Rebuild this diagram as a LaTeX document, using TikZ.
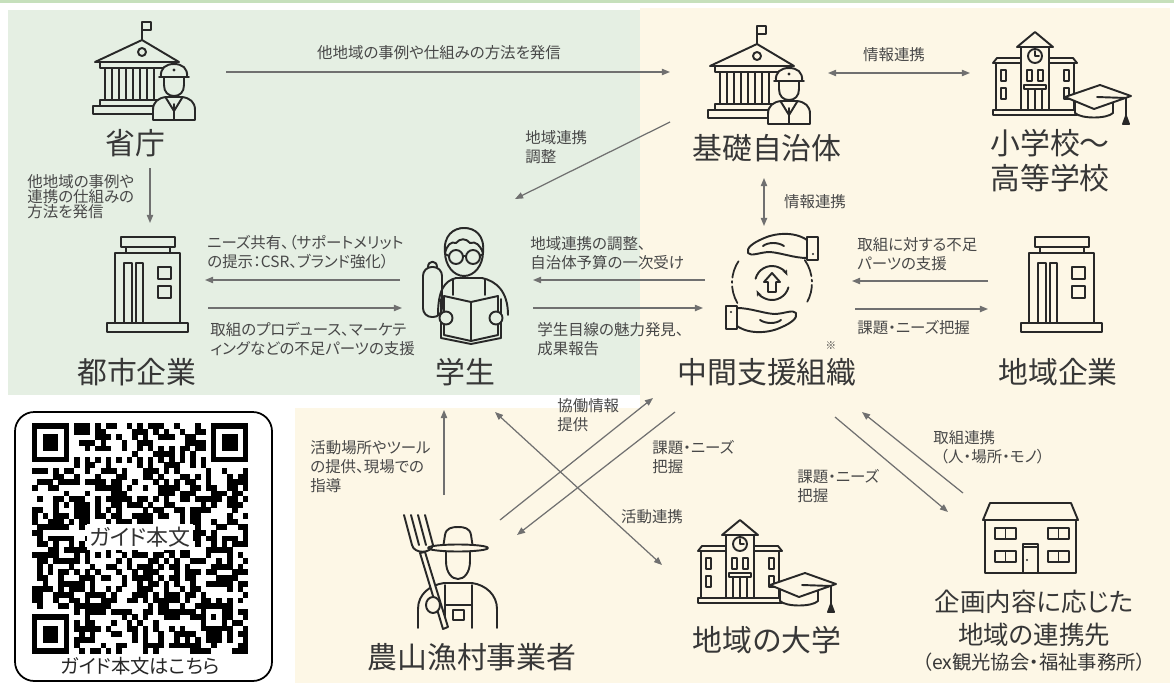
\documentclass[tikz,border=0pt]{standalone}
\usepackage{fontspec}
\setmainfont{Noto Sans CJK JP}[RawFeature=+palt]
\usetikzlibrary{arrows.meta}

\definecolor{panelgreen}{RGB}{229,239,227}
\definecolor{panelcream}{RGB}{253,247,230}
\definecolor{topgreen}{RGB}{198,224,188}
\definecolor{inkgray}{RGB}{40,40,40}
\definecolor{titlegray}{RGB}{55,55,55}
\definecolor{labelgray}{RGB}{72,72,72}
\definecolor{arrowgray}{RGB}{112,112,112}

\tikzset{
  icon/.style={draw=inkgray, line width=1.1pt, line join=round, line cap=round},
  ttl/.style={font=\fontsize{17}{20}\selectfont, text=titlegray, inner sep=0pt},
  lbl/.style={font=\fontsize{8.8}{10.8}\selectfont, text=labelgray, inner sep=0pt, align=left, anchor=west},
  flow/.style={draw=arrowgray, line width=0.7pt, -{Triangle[length=4.6pt,width=3.6pt]}},
  flowtwo/.style={flow, {Triangle[length=4.6pt,width=3.6pt]}-{Triangle[length=4.6pt,width=3.6pt]}},
  % government building with an officer
  pics/govicon/.style={code={
    \draw[icon] (50,22) -- (50,4) -- (59,4) -- (59,12) -- (50,12);
    \draw[icon] (3,44) -- (50,22) -- (87,44) -- cycle;
    \draw[icon] (50,34) circle (4);
    \draw[icon] (8,44) rectangle (83,50);
    \foreach \cx in {13,27,41,55}
      \draw[icon] (\cx,50) -- (\cx,82) (\cx+7,50) -- (\cx+7,82);
    \draw[icon] (8,82) rectangle (70,88);
    \draw[icon] (1,88) rectangle (70,96);
    \draw[icon, fill=#1] (61,102) -- (61,92) .. controls (61,84) and (66,80) .. (74,79) -- (90,79) .. controls (98,80) and (103,84) .. (103,92) -- (103,102) -- cycle;
    \draw[icon] (74,80) -- (82,93) -- (90,80) (82,86) -- (82,102);
    \draw[icon, fill=#1] (72,58) -- (72,67) .. controls (72,74) and (76,78) .. (82,78) .. controls (88,78) and (92,74) .. (92,67) -- (92,58);
    \draw[icon, fill=#1] (69,59) .. controls (68,50) and (74,46) .. (82,46) .. controls (90,46) and (96,50) .. (95,59) -- cycle;
    \draw[icon] (67,59) -- (97,59);
    \fill[inkgray] (82,52) circle (1.6);
  }},
  % school with clock tower and a mortarboard
  pics/schoolicon/.style={code={
    \draw[icon] (0,31) -- (4,26) -- (28,26) (56,26) -- (80,26) -- (84,31);
    \draw[icon] (0,31) -- (28,31) (56,31) -- (84,31);
    \draw[icon] (3,31) -- (3,78) (81,31) -- (81,78);
    \draw[icon] (28,78) -- (28,15) (56,15) -- (56,78);
    \draw[icon] (24,15) -- (42,0) -- (60,15) -- cycle;
    \draw[icon] (42,24) circle (7);
    \draw[icon] (42,19) -- (42,24) -- (46,24);
    \foreach \wx in {8,34,45,71} \draw[icon] (\wx,38) rectangle +(5,11);
    \foreach \wx in {8,71} \draw[icon] (\wx,56) rectangle +(5,11);
    \draw[icon] (31,53) rectangle (53,57);
    \foreach \px in {35,42,49} \draw[icon] (\px,57) -- (\px,78);
    \draw[icon] (0,78) rectangle (84,83);
    \draw[icon, fill=#1] (82,70) -- (82,81) .. controls (88,87) and (114,87) .. (120,81) -- (120,70);
    \draw[icon, fill=#1] (72,65) -- (107,53) -- (138,64) -- (101,77) -- cycle;
    \draw[icon] (104,65) -- (133,66) -- (133,84);
    \draw[icon, fill=inkgray] (133,84) -- (130,92) -- (136,92) -- cycle;
  }},
  % office block
  pics/officeicon/.style={code={
    \draw[icon] (14,0) rectangle (68,10);
    \draw[icon] (19,10) -- (19,16) (63,10) -- (63,16);
    \draw[icon] (8,16) rectangle (73,86);
    \draw[icon] (0,86) rectangle (81,95);
    \draw[icon] (17,26) rectangle (25,86) (29,26) rectangle (36,86);
    \draw[icon] (51,30) rectangle (64,42) (51,49) rectangle (64,61);
  }},
  % student reading a book
  pics/studenticon/.style={code={
    \draw[icon, rounded corners=5pt] (3,42) rectangle (22,92);
    \draw[icon] (8,42) .. controls (8,35) and (17,35) .. (17,42);
    \draw[icon] (18,90) .. controls (18,66) and (24,56) .. (36,53) -- (62,53) .. controls (76,56) and (88,66) .. (88,90);
    \draw[icon] (33,54) -- (33,70) (65,54) -- (65,70);
    \draw[icon, fill=#1] (44,27) ellipse (19 and 24);
    \draw[icon, fill=#1] (25,28) .. controls (23,10) and (34,3) .. (44,3) .. controls (55,3) and (65,10) .. (63,28) .. controls (60,20) and (56,16) .. (50,18) .. controls (46,13) and (40,13) .. (36,18) .. controls (31,16) and (27,20) .. (25,28) -- cycle;
    \draw[icon] (36,32) circle (7) (53,32) circle (7) (43,31) -- (46,31) (29,31) -- (25,29) (60,31) -- (63,29);
    \draw[icon] (21,74) -- (21,113) -- (51,119) -- (81,113) -- (81,74);
    \draw[icon, fill=#1] (24,71) -- (51,77) -- (78,71) -- (78,110) -- (51,116) -- (24,110) -- cycle;
    \draw[icon] (51,77) -- (51,116);
    \draw[icon, fill=#1] (26,93) circle (6.5) (76,93) circle (6.5);
  }},
  % two hands round a cycle
  pics/handsicon/.style={code={
    \draw[icon, line width=1pt, dash pattern=on 10pt off 2pt on 1pt off 2pt] (0,0) ++(150:40) arc[start angle=150, end angle=215, radius=40];
    \draw[icon, line width=1pt, dash pattern=on 10pt off 2pt on 1pt off 2pt] (0,0) ++(-35:40) arc[start angle=-35, end angle=30, radius=40];
    \draw[icon, -{Stealth[length=3.5pt]}] (0,0) ++(195:17) arc[start angle=195, end angle=335, radius=17];
    \draw[icon, -{Stealth[length=3.5pt]}] (0,0) ++(15:17) arc[start angle=15, end angle=155, radius=17];
    \draw[icon] (0,-10) -- (8,-1) -- (4,-1) -- (4,9) -- (-4,9) -- (-4,-1) -- (-8,-1) -- cycle;
    \foreach \r in {0,180}{
      \begin{scope}[rotate=\r]
        \draw[icon, fill=#1] (35,-43) .. controls (22,-52) and (2,-50) .. (-10,-44) .. controls (-19,-40) and (-26,-35) .. (-24,-30) .. controls (-21,-26) and (-12,-31) .. (-2,-31) .. controls (10,-30) and (22,-25) .. (35,-25);
        \draw[icon] (12,-37) .. controls (6,-41) and (-4,-41) .. (-9,-37);
        \draw[icon, fill=#1] (35,-46) rectangle (46,-23);
        \fill[inkgray] (41,-29) circle (1.2);
      \end{scope}
    }
  }},
  % farmer holding a pitchfork
  pics/farmericon/.style={code={
    \draw[icon] (18,115) -- (18,96) .. controls (18,81) and (30,72) .. (44,70) -- (72,70) .. controls (86,72) and (97,82) .. (97,96) -- (97,115);
    \draw[icon] (45,72) -- (45,115) (72,72) -- (72,115) (45,92) -- (72,92);
    \draw[icon] (53,97) rectangle (64,107);
    \draw[icon, fill=#1] (46,36) -- (46,48) .. controls (46,60) and (52,66) .. (58,66) .. controls (64,66) and (70,60) .. (70,48) -- (70,36);
    \draw[icon, fill=#1] (43,35) -- (45,22) .. controls (46,15) and (52,14) .. (58,14) .. controls (64,14) and (70,15) .. (71,22) -- (73,35);
    \draw[icon, fill=#1] (58,35) ellipse (30 and 3.5);
    \draw[icon, fill=#1] (20,40) -- (43,116) -- (48,114) -- (25,39) -- cycle;
    \draw[icon] (12,32) .. controls (14,41) and (31,41) .. (33,32);
    \foreach \tx in {12,19,26,33} \draw[icon] (\tx,32) -- (\tx-8,2);
    \draw[icon, fill=#1] (33,92) ellipse (7 and 8);
  }},
  % two-storey house
  pics/houseicon/.style={code={
    \draw[icon] (7,0) -- (88,0) -- (95,17) -- (0,17) -- cycle;
    \draw[icon] (2,17) -- (2,70) -- (93,70) -- (93,17);
    \foreach \wx/\wy in {12/25,65/25,12/48,65/48}{
      \draw[icon] (\wx,\wy) rectangle +(21,11);
      \draw[icon] (\wx+10.5,\wy) -- +(0,11);
    }
    \draw[icon] (40,41) rectangle (55,70);
    \draw[icon] (40,44) -- (55,44);
    \fill[inkgray] (44,57) circle (1.2);
  }},
}

\begin{document}
\begin{tikzpicture}[x=0.02cm, y=-0.02cm]
  \useasboundingbox (0,0) rectangle (1174,683);
  % panels
  \fill[white] (0,0) rectangle (1174,683);
  \fill[topgreen] (0,0) rectangle (1174,2.5);
  \fill[panelgreen] (8,10) rectangle (640,395);
  \fill[panelcream] (640,8) rectangle (1170,683);
  \fill[panelcream] (295,408) rectangle (640,683);

  % QR code card
  \draw[line width=1pt, rounded corners=11pt] (15,412) rectangle (272,681);
  \def\qw{5.27}
  \def\qh{5.63}
  \pgfmathsetseed{2718}
  \foreach \i in {0,...,40}{
    \foreach \j in {0,...,40}{
      \pgfmathtruncatemacro{\qrskip}{((\i<8)&&(\j<8))||((\i>32)&&(\j<8))||((\i<8)&&(\j>32))||((\i>31)&&(\i<37)&&(\j>31)&&(\j<37)) ? 1 : 0}
      \pgfmathtruncatemacro{\qrbit}{((\i==6)||(\j==6)) ? (mod(\i+\j,2)==0) : (rnd<0.47)}
      \ifnum\qrskip=0
        \ifnum\qrbit=1
          \fill ({32+\i*\qw},{423+\j*\qh}) rectangle +({\qw+0.25},{\qh+0.25});
        \fi
      \fi
    }
  }
  \foreach \fx/\fy in {0/0,34/0,0/34}{
    \fill ({32+\fx*\qw},{423+\fy*\qh}) rectangle +({7*\qw},{7*\qh});
    \fill[white] ({32+(\fx+1)*\qw},{423+(\fy+1)*\qh}) rectangle +({5*\qw},{5*\qh});
    \fill ({32+(\fx+2)*\qw},{423+(\fy+2)*\qh}) rectangle +({3*\qw},{3*\qh});
  }
  \fill ({32+32*\qw},{423+32*\qh}) rectangle +({5*\qw},{5*\qh});
  \fill[white] ({32+33*\qw},{423+33*\qh}) rectangle +({3*\qw},{3*\qh});
  \fill ({32+34*\qw},{423+34*\qh}) rectangle +(\qw,\qh);
  \node[fill=white, inner sep=1.5pt, font=\fontsize{12.5}{14}\selectfont, text=black!80] (qrtag) at (140,537) {ガイド本文};
  \node[font=\fontsize{11}{13}\selectfont, text=black!85, inner sep=0pt] (qrcap) at (140,666) {ガイド本文はこちら};

  % icons
  \pic at (92,18) {govicon=panelgreen};
  \pic at (707,22) {govicon=panelcream};
  \pic at (993,32) {schoolicon=panelcream};
  \pic at (698,520) {schoolicon=panelcream};
  \pic at (107,237) {officeicon};
  \pic at (1021,237) {officeicon};
  \pic at (420,225) {studenticon=panelgreen};
  \pic at (772,283) {handsicon=panelcream};
  \pic at (400,513) {farmericon=panelcream};
  \pic at (983,503) {houseicon};

  % names
  \node[ttl] (shocho) at (135,143) {省庁};
  \node[ttl] (kiso) at (767,148) {基礎自治体};
  \node[ttl, align=left, anchor=west] (gakko) at (990,161) {小学校～\\高等学校};
  \node[ttl] (toshi) at (137,372) {都市企業};
  \node[ttl] (gakusei) at (465,372) {学生};
  \node[ttl] (chukan) at (767,372) {中間支援組織};
  \node[ttl, font=\fontsize{6}{6}\selectfont] (kome) at (831,346) {※};
  \node[ttl] (chiiki) at (1058,372) {地域企業};
  \node[ttl] (noson) at (472,657) {農山漁村事業者};
  \node[ttl] (daigaku) at (767,640) {地域の大学};
  \node[ttl, font=\fontsize{14.5}{17}\selectfont] (renkei) at (1034,602) {企画内容に応じた};
  \node[ttl, font=\fontsize{14.5}{17}\selectfont] (renkeisaki) at (1034,635) {地域の連携先};
  \node[ttl, font=\fontsize{11}{13}\selectfont] (renkeirei) at (1034,662) {（ex観光協会・福祉事務所）};

  % arrow ends
  \coordinate (sh-r) at (226,72);    \coordinate (ki-l) at (670,72);
  \coordinate (ki-r) at (828,73);    \coordinate (gk-l) at (970,73);
  \coordinate (ki-sw) at (670,122);  \coordinate (gs-ne) at (515,199);
  \coordinate (ki-s) at (764,178);   \coordinate (ch-n) at (764,226);
  \coordinate (sh-s) at (150,168);   \coordinate (ts-n) at (150,223);
  \coordinate (gs-w1) at (400,280);  \coordinate (ts-e1) at (205,280);
  \coordinate (ts-e2) at (208,308);  \coordinate (gs-w2) at (402,308);
  \coordinate (ch-w1) at (705,280);  \coordinate (gs-e1) at (533,280);
  \coordinate (gs-e2) at (533,308);  \coordinate (ch-w2) at (703,308);
  \coordinate (ck-w1) at (988,281);  \coordinate (ch-e1) at (852,281);
  \coordinate (ch-e2) at (855,309);  \coordinate (ck-w2) at (988,309);
  \coordinate (ns-n) at (444,495);   \coordinate (gs-s) at (444,410);
  \coordinate (gs-se) at (495,412);  \coordinate (dg-nw) at (662,565);
  \coordinate (ns-ne1) at (500,520); \coordinate (ch-sw1) at (653,398);
  \coordinate (ch-sw2) at (675,412); \coordinate (ns-ne2) at (517,535);
  \coordinate (ch-se1) at (835,417); \coordinate (rk-nw1) at (948,512);
  \coordinate (rk-nw2) at (963,493); \coordinate (ch-se2) at (862,412);

  % connectors
  \draw[flow] (sh-r) -- (ki-l);
  \draw[flowtwo] (ki-r) -- (gk-l);
  \draw[flow] (ki-sw) -- (gs-ne);
  \draw[flowtwo] (ki-s) -- (ch-n);
  \draw[flow] (sh-s) -- (ts-n);
  \draw[flow] (gs-w1) -- (ts-e1);
  \draw[flow] (ts-e2) -- (gs-w2);
  \draw[flow] (ch-w1) -- (gs-e1);
  \draw[flow] (gs-e2) -- (ch-w2);
  \draw[flow] (ck-w1) -- (ch-e1);
  \draw[flow] (ch-e2) -- (ck-w2);
  \draw[flow] (ns-n) -- (gs-s);
  \draw[flowtwo] (gs-se) -- (dg-nw);
  \draw[flow] (ns-ne1) -- (ch-sw1);
  \draw[flow] (ch-sw2) -- (ns-ne2);
  \draw[flow] (ch-se1) -- (rk-nw1);
  \draw[flow] (rk-nw2) -- (ch-se2);

  % connector labels
  \node[lbl, anchor=center] (t-hasshin) at (439,53) {他地域の事例や仕組みの方法を発信};
  \node[lbl, anchor=center] (t-joho1) at (894,55) {情報連携};
  \node[lbl] (t-chosei) at (525,147) {地域連携\\調整};
  \node[lbl, anchor=center] (t-joho2) at (815,202) {情報連携};
  \node[lbl, font=\fontsize{8.8}{8.6}\selectfont] (t-shocho) at (27,197) {他地域の事例や\\連携の仕組みの\\方法を発信};
  \node[lbl] (t-needs) at (207,252) {ニーズ共有、（サポートメリット\\の提示：CSR、ブランド強化）};
  \node[lbl] (t-produce) at (210,339) {取組のプロデュース、マーケテ\\ィングなどの不足パーツの支援};
  \node[lbl] (t-yosan) at (530,253) {地域連携の調整、\\自治体予算の一次受け};
  \node[lbl] (t-miryoku) at (537,339) {学生目線の魅力発見、\\成果報告};
  \node[lbl] (t-fusoku) at (857,254) {取組に対する不足\\パーツの支援};
  \node[lbl] (t-haaku1) at (857,328) {課題・ニーズ把握};
  \node[lbl] (t-basho) at (310,467) {活動場所やツール\\の提供、現場での\\指導};
  \node[lbl] (t-kyodo) at (557,415) {協働情報\\提供};
  \node[lbl] (t-haaku2) at (652,457) {課題・ニーズ\\把握};
  \node[lbl, anchor=center] (t-katsudo) at (652,517) {活動連携};
  \node[lbl] (t-haaku3) at (797,486) {課題・ニーズ\\把握};
  \node[lbl] (t-torikumi) at (933,447) {取組連携\\\hspace*{4pt}（人・場所・モノ）};
\end{tikzpicture}
\end{document}
